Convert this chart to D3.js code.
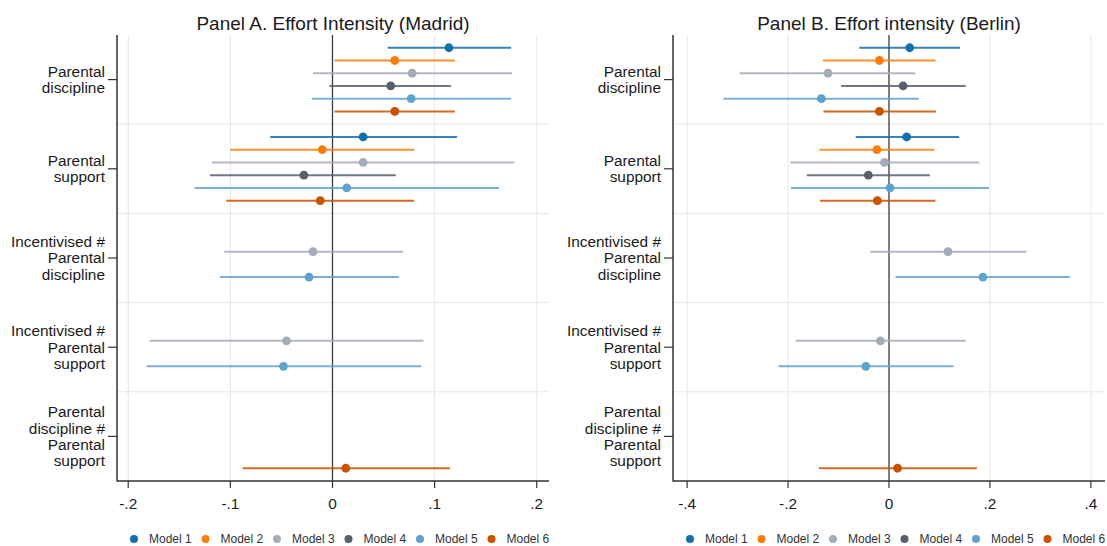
<!DOCTYPE html>
<html>
<head>
<meta charset="utf-8">
<script src="https://cdn.jsdelivr.net/npm/d3@7"></script>
<style>
  html, body { margin: 0; padding: 0; background: #fff; }
  svg { display: block; font-family: "Liberation Sans", Arial, sans-serif; }
</style>
</head>
<body>
<svg id="chart" width="1107" height="546"></svg>
<script>
// Coefficient rows (top to bottom), with their wrapped labels
const terms = [
  "Parental discipline",
  "Parental support",
  "Incentivised # Parental discipline",
  "Incentivised # Parental support",
  "Parental discipline # Parental support"
];
const termLabelLines = [
  ["Parental", "discipline"],
  ["Parental", "support"],
  ["Incentivised #", "Parental", "discipline"],
  ["Incentivised #", "Parental", "support"],
  ["Parental", "discipline #", "Parental", "support"]
];
const models = ["Model 1", "Model 2", "Model 3", "Model 4", "Model 5", "Model 6"];
const modelColors = ["#1170aa", "#fc7d0b", "#a3acb9", "#57606c", "#5fa2ce", "#c85200"];

// Panel A (Madrid): point estimates and confidence bounds, one entry per term
const madridEst = [
  [0.114, 0.030, null, null, null],
  [0.061, -0.010, null, null, null],
  [0.078, 0.030, -0.019, -0.045, null],
  [0.057, -0.028, null, null, null],
  [0.077, 0.014, -0.023, -0.048, null],
  [0.061, -0.012, null, null, 0.013]
];
const madridLo = [
  [0.054, -0.061, null, null, null],
  [0.002, -0.100, null, null, null],
  [-0.019, -0.118, -0.106, -0.179, null],
  [-0.003, -0.120, null, null, null],
  [-0.020, -0.135, -0.110, -0.182, null],
  [0.002, -0.104, null, null, -0.088]
];
const madridHi = [
  [0.175, 0.122, null, null, null],
  [0.120, 0.080, null, null, null],
  [0.176, 0.178, 0.069, 0.089, null],
  [0.116, 0.062, null, null, null],
  [0.175, 0.163, 0.065, 0.087, null],
  [0.120, 0.080, null, null, 0.115]
];

// Panel B (Berlin)
const berlinEst = [
  [0.041, 0.035, null, null, null],
  [-0.019, -0.024, null, null, null],
  [-0.121, -0.009, 0.117, -0.017, null],
  [0.028, -0.041, null, null, null],
  [-0.134, 0.002, 0.186, -0.046, null],
  [-0.019, -0.023, null, null, 0.017]
];
const berlinLo = [
  [-0.059, -0.066, null, null, null],
  [-0.131, -0.138, null, null, null],
  [-0.296, -0.195, -0.037, -0.185, null],
  [-0.095, -0.163, null, null, null],
  [-0.328, -0.194, 0.013, -0.219, null],
  [-0.130, -0.137, null, null, -0.139]
];
const berlinHi = [
  [0.141, 0.139, null, null, null],
  [0.092, 0.090, null, null, null],
  [0.052, 0.179, 0.272, 0.152, null],
  [0.152, 0.081, null, null, null],
  [0.059, 0.198, 0.358, 0.128, null],
  [0.093, 0.092, null, null, 0.174]
];

// Axis ticks
const madridTicks = [-0.2, -0.1, 0, 0.1, 0.2];
const madridTickLabels = ["-.2", "-.1", "0", ".1", ".2"];
const berlinTicks = [-0.4, -0.2, 0, 0.2, 0.4];
const berlinTickLabels = ["-.4", "-.2", "0", ".2", ".4"];

const svg = d3.select("#chart");
const textColor = "#1a1a1a";
const plotTop = 35, plotBottom = 481;

function drawPanel(opts) {
  const g = svg.append("g");
  const x = d3.scaleLinear().domain(opts.domain).range([opts.left, opts.right]);
  const yTerm = d3.scaleBand().domain(d3.range(terms.length)).range([plotTop, plotBottom]);
  const ySlot = d3.scalePoint().domain(d3.range(-1, models.length + 1)).range([0, yTerm.bandwidth()]);

  // Title
  g.append("text")
    .attr("x", (opts.left + opts.right) / 2)
    .attr("y", 30)
    .attr("text-anchor", "middle")
    .attr("font-size", 19)
    .attr("fill", textColor)
    .text(opts.title);

  // Vertical grid lines at the ticks
  g.append("g").selectAll("line")
    .data(opts.ticks.filter(t => t !== 0))
    .join("line")
    .attr("x1", d => x(d)).attr("x2", d => x(d))
    .attr("y1", plotTop).attr("y2", plotBottom)
    .attr("stroke", "#e6e6e6").attr("stroke-width", 1);

  // Horizontal separators between coefficient rows
  g.append("g").selectAll("line")
    .data(d3.range(1, terms.length))
    .join("line")
    .attr("x1", opts.left).attr("x2", opts.right)
    .attr("y1", d => yTerm(d)).attr("y2", d => yTerm(d))
    .attr("stroke", "#e6e6e6").attr("stroke-width", 1);

  // Reference line at zero
  g.append("line")
    .attr("x1", x(0)).attr("x2", x(0))
    .attr("y1", plotTop).attr("y2", plotBottom)
    .attr("stroke", "#3a3a3a").attr("stroke-width", 1.3);

  // Confidence intervals and point estimates
  const rows = [];
  models.forEach((m, mi) => {
    terms.forEach((t, ti) => {
      const est = opts.est[mi][ti];
      if (est === null) return;
      rows.push({ mi, ti, est, lo: opts.lo[mi][ti], hi: opts.hi[mi][ti] });
    });
  });
  const yOf = d => yTerm(d.ti) + ySlot(d.mi);

  g.append("g").selectAll("line")
    .data(rows)
    .join("line")
    .attr("x1", d => x(d.lo)).attr("x2", d => x(d.hi))
    .attr("y1", yOf).attr("y2", yOf)
    .attr("stroke", d => modelColors[d.mi])
    .attr("stroke-opacity", 0.85)
    .attr("stroke-width", 2);

  g.append("g").selectAll("circle")
    .data(rows)
    .join("circle")
    .attr("cx", d => x(d.est)).attr("cy", yOf)
    .attr("r", 4.4)
    .attr("fill", d => modelColors[d.mi]);

  // Left axis with wrapped term labels
  g.append("line")
    .attr("x1", opts.left).attr("x2", opts.left)
    .attr("y1", plotTop).attr("y2", plotBottom + 0.5)
    .attr("stroke", "#333").attr("stroke-width", 1.5);
  const lh = 16.3;
  termLabelLines.forEach((lines, ti) => {
    const cy = yTerm(ti) + yTerm.bandwidth() / 2;
    g.append("line")
      .attr("x1", opts.left - 9).attr("x2", opts.left)
      .attr("y1", cy).attr("y2", cy)
      .attr("stroke", "#333").attr("stroke-width", 1.2);
    const t = g.append("text")
      .attr("text-anchor", "end")
      .attr("font-size", 15.4)
      .attr("fill", textColor);
    lines.forEach((ln, k) => {
      t.append("tspan")
        .attr("x", opts.left - 12)
        .attr("y", cy + (k - (lines.length - 1) / 2) * lh + 5.3)
        .text(ln);
    });
  });

  // Bottom axis
  g.append("line")
    .attr("x1", opts.left).attr("x2", opts.right)
    .attr("y1", plotBottom).attr("y2", plotBottom)
    .attr("stroke", "#333").attr("stroke-width", 1.5);
  g.append("g").selectAll("line")
    .data(opts.ticks)
    .join("line")
    .attr("x1", d => x(d)).attr("x2", d => x(d))
    .attr("y1", plotBottom).attr("y2", plotBottom + 7)
    .attr("stroke", "#333").attr("stroke-width", 1.2);
  g.append("g").selectAll("text")
    .data(opts.ticks)
    .join("text")
    .attr("x", d => x(d))
    .attr("y", 509)
    .attr("text-anchor", "middle")
    .attr("font-size", 15.4)
    .attr("fill", textColor)
    .text((d, i) => opts.tickLabels[i]);

  // Legend
  const leg = g.append("g").selectAll("g")
    .data(models)
    .join("g")
    .attr("transform", (d, i) => `translate(${opts.left + 17 + i * 71.5},539)`);
  leg.append("circle").attr("r", 4).attr("fill", (d, i) => modelColors[i]);
  leg.append("text")
    .attr("x", 15).attr("y", 4.3)
    .attr("font-size", 12)
    .attr("fill", "#333")
    .text(d => d);
}

drawPanel({
  title: "Panel A. Effort Intensity (Madrid)",
  left: 117, right: 549, domain: [-0.211, 0.212],
  est: madridEst, lo: madridLo, hi: madridHi,
  ticks: madridTicks, tickLabels: madridTickLabels
});
drawPanel({
  title: "Panel B. Effort intensity (Berlin)",
  left: 673, right: 1105, domain: [-0.428, 0.428],
  est: berlinEst, lo: berlinLo, hi: berlinHi,
  ticks: berlinTicks, tickLabels: berlinTickLabels
});
</script>
</body>
</html>
